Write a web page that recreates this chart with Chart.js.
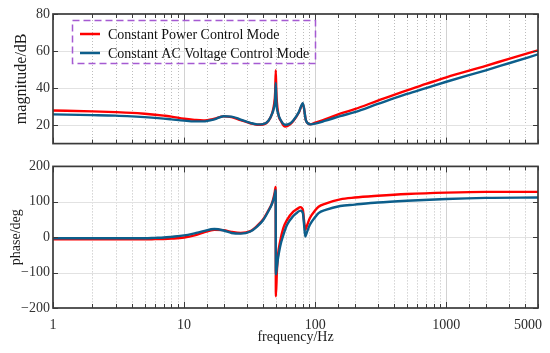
<!DOCTYPE html>
<html>
<head>
<meta charset="utf-8">
<script src="https://cdn.jsdelivr.net/npm/chart.js@4.4.1/dist/chart.umd.min.js"></script>
<style>
  html, body { margin: 0; padding: 0; background: #fff; }
  #wrap { position: relative; width: 550px; height: 353px; }
  #magBox { position: absolute; left: 0; top: 0; width: 550px; height: 155px; }
  #phaseBox { position: absolute; left: 0; top: 155px; width: 550px; height: 198px; }
</style>
</head>
<body>
<div id="wrap">
  <div id="magBox"><canvas id="magChart"></canvas></div>
  <div id="phaseBox"><canvas id="phaseChart"></canvas></div>
</div>
<script>
// series names
const seriesNames = ['Constant Power Control Mode', 'Constant AC Voltage Control Mode'];

// magnitude (dB)
const magFreq = [1, 2, 3, 4, 5, 6, 7, 8, 10, 12, 14, 17, 20, 23, 27, 32, 36, 40, 44, 47, 48.5, 49.5, 50, 50.5, 52, 55, 59, 64, 68, 75, 80.5, 85, 91.5, 100, 120, 155, 200, 300, 500, 700, 1000, 2000, 3000, 5000];
const magPower = [27.9, 27.4, 27.0, 26.6, 26.1, 25.6, 25.1, 24.6, 23.4, 22.8, 22.5, 23.4, 24.7, 24.3, 22.7, 21.0, 20.2, 20.3, 22.3, 26.5, 31, 38, 49.7, 38, 27, 22, 19.2, 20.3, 22.2, 26.8, 31.5, 22.4, 20.4, 21.3, 23.2, 26.2, 28.6, 33.2, 38.8, 42.2, 45.8, 52, 55.8, 60.4];
const magVoltage = [25.8, 25.4, 25.1, 24.7, 24.3, 23.9, 23.5, 23.1, 22.4, 22.0, 22.0, 23.1, 24.8, 24.6, 23.0, 21.2, 20.4, 20.5, 22.4, 26.3, 29.5, 34, 42.8, 33, 26.5, 22.2, 20.2, 20.8, 22.5, 27, 31.8, 22.4, 20.4, 20.8, 22.4, 24.8, 27.0, 31.4, 36.8, 40.0, 43.4, 49.6, 53.4, 58.2];

// phase (deg)
const phaseFreq = [1, 2, 3, 4, 5, 6, 7, 8, 10, 12, 14, 17, 20, 23, 27, 32, 36, 40, 44, 47, 49, 49.9, 50.1, 51, 52, 54, 57, 61, 68, 73, 77, 80.5, 82, 84, 86, 91, 100, 106, 120, 155, 200, 300, 500, 1000, 2000, 5000];
const phasePower = [-6, -6, -6, -6, -6, -5.5, -5, -4, -1, 5, 13, 21, 20, 15, 12, 17, 32, 50, 76, 98, 125, 142, -167, -95, -50, -12, 25, 49, 72, 80, 85, 77, 50, 21, 30, 54, 76, 86, 95, 107, 112, 117, 122, 126, 128, 128];
const phaseVoltage = [-3, -3, -3, -3, -3, -2, -1, 1, 5, 11, 17, 23, 19, 12, 10, 16, 30, 48, 74, 96, 118, 133, -105, -85, -60, -26, 5, 35, 60, 70, 75, 68, 40, 2, 12, 35, 57, 68, 77, 88, 92, 98, 103, 108, 111, 112];

// axes
const magTicks = [20, 40, 60, 80];
const phaseTicks = [-200, -100, 0, 100, 200];
const freqLabels = [1, 10, 100, 1000, 5000];

const SERIF = "'Liberation Serif', 'Times New Roman', serif";
const RED = '#ff0000';
const BLUE = '#0c5e8b';

const toPoints = (xs, ys) => xs.map((f, i) => ({ x: f, y: ys[i] }));
const isDecade = v => Math.abs(Math.log10(v) - Math.round(Math.log10(v))) < 1e-9;
const fmt = v => v < 0 ? '\u2212' + Math.abs(v) : String(v);

const bodeFrame = {
  id: 'bodeFrame',
  beforeDatasetsDraw(chart) {
    const { ctx, chartArea: a, scales: { x, y } } = chart;
    ctx.save();
    ctx.lineWidth = 1;
    x.ticks.forEach(t => {
      const px = Math.round(x.getPixelForValue(t.value)) + 0.5;
      if (px <= a.left + 1 || px >= a.right - 1) return;
      const dec = isDecade(t.value);
      ctx.strokeStyle = dec ? '#d2d2d2' : '#bdbdbd';
      ctx.setLineDash(dec ? [] : [1, 2]);
      ctx.beginPath(); ctx.moveTo(px, a.top); ctx.lineTo(px, a.bottom); ctx.stroke();
    });
    ctx.setLineDash([]);
    ctx.strokeStyle = '#e2e2e2';
    y.ticks.forEach(t => {
      const py = Math.round(y.getPixelForValue(t.value)) + 0.5;
      if (py <= a.top + 1 || py >= a.bottom - 1) return;
      ctx.beginPath(); ctx.moveTo(a.left, py); ctx.lineTo(a.right, py); ctx.stroke();
    });
    ctx.restore();
  },
  afterDatasetsDraw(chart, args, opts) {
    const { ctx, chartArea: a, scales: { x, y } } = chart;
    ctx.save();
    ctx.strokeStyle = '#3a3a3a';
    ctx.lineWidth = 1;
    x.ticks.forEach(t => {
      const px = Math.round(x.getPixelForValue(t.value)) + 0.5;
      const len = isDecade(t.value) ? 6 : 4;
      ctx.beginPath();
      ctx.moveTo(px, a.bottom); ctx.lineTo(px, a.bottom - len);
      ctx.moveTo(px, a.top); ctx.lineTo(px, a.top + len);
      ctx.stroke();
    });
    y.ticks.forEach(t => {
      const py = Math.round(y.getPixelForValue(t.value)) + 0.5;
      ctx.beginPath();
      ctx.moveTo(a.left, py); ctx.lineTo(a.left + 5, py);
      ctx.moveTo(a.right, py); ctx.lineTo(a.right - 5, py);
      ctx.stroke();
    });
    ctx.lineWidth = 1.7;
    ctx.strokeRect(a.left, a.top, a.right - a.left, a.bottom - a.top);

    if (opts.xLabels) {
      ctx.fillStyle = '#2a2a2a';
      ctx.font = '14px ' + SERIF;
      ctx.textBaseline = 'top';
      freqLabels.forEach((v, i) => {
        const px = x.getPixelForValue(v);
        const last = i === freqLabels.length - 1;
        ctx.textAlign = last ? 'right' : 'center';
        ctx.fillText(String(v), last ? px + 4 : px, a.bottom + 10);
      });
    }

    if (opts.legend) {
      const bx = a.left + 19, by = 20;
      ctx.strokeStyle = '#a55ad2';
      ctx.lineWidth = 1.5;
      ctx.setLineDash([7, 4]);
      ctx.strokeRect(bx + 0.5, by + 0.5, 243, 43);
      ctx.setLineDash([]);
      ctx.font = '14px ' + SERIF;
      ctx.textAlign = 'left';
      ctx.textBaseline = 'middle';
      chart.data.datasets.forEach((ds, i) => {
        const ly = by + 14 + i * 19;
        ctx.strokeStyle = ds.borderColor;
        ctx.lineWidth = 2.5;
        ctx.beginPath(); ctx.moveTo(bx + 8, ly); ctx.lineTo(bx + 28, ly); ctx.stroke();
        ctx.fillStyle = '#111';
        ctx.fillText(ds.label, bx + 36, ly + 1);
      });
    }
    ctx.restore();
  }
};

function lineSet(label, pts, color, order) {
  return {
    label, data: pts, borderColor: color, backgroundColor: color,
    borderWidth: 2.4, pointRadius: 0, cubicInterpolationMode: 'monotone', order
  };
}

function makeOptions(cfg) {
  return {
    responsive: true,
    maintainAspectRatio: false,
    animation: false,
    devicePixelRatio: 1,
    layout: { padding: { top: cfg.padTop, right: 12, left: 0, bottom: 0 } },
    plugins: { legend: { display: false }, tooltip: { enabled: false }, bodeFrame: cfg.frame },
    scales: {
      x: {
        type: 'logarithmic', min: 1, max: 5000,
        grid: { display: false }, border: { display: false },
        ticks: { display: false },
        title: cfg.xTitle ? { display: true, text: 'frequency/Hz', color: '#1a1a1a', font: { family: SERIF, size: 14 }, padding: { top: 0, bottom: 7 } } : { display: false },
        afterFit: s => { s.height = cfg.xHeight; }
      },
      y: {
        min: cfg.yMin, max: cfg.yMax,
        grid: { display: false, drawTicks: false }, border: { display: false },
        afterBuildTicks: s => { s.ticks = cfg.yTicks.map(v => ({ value: v })); },
        ticks: { color: '#333', font: { family: SERIF, size: 14 }, padding: 3, callback: v => fmt(v) },
        title: { display: true, text: cfg.yTitle, color: '#1a1a1a', font: { family: SERIF, size: cfg.yTitleSize }, padding: { top: cfg.yTitlePad, bottom: 0 } },
        afterFit: s => { s.width = 53; }
      }
    }
  };
}

new Chart(document.getElementById('magChart'), {
  type: 'line',
  data: { datasets: [
    lineSet(seriesNames[0], toPoints(magFreq, magPower), RED, 2),
    lineSet(seriesNames[1], toPoints(magFreq, magVoltage), BLUE, 1)
  ] },
  options: makeOptions({ padTop: 14, xHeight: 4, yMin: 10, yMax: 80, yTicks: magTicks, yTitle: 'magnitude/dB', yTitleSize: 16, yTitlePad: 12, frame: { legend: true } }),
  plugins: [bodeFrame]
});

new Chart(document.getElementById('phaseChart'), {
  type: 'line',
  data: { datasets: [
    lineSet(seriesNames[0], toPoints(phaseFreq, phasePower), RED, 2),
    lineSet(seriesNames[1], toPoints(phaseFreq, phaseVoltage), BLUE, 1)
  ] },
  options: makeOptions({ padTop: 11, xHeight: 45, xTitle: true, yMin: -200, yMax: 200, yTicks: phaseTicks, yTitle: 'phase/deg', yTitleSize: 14, yTitlePad: 8, frame: { xLabels: true } }),
  plugins: [bodeFrame]
});
</script>
</body>
</html>
